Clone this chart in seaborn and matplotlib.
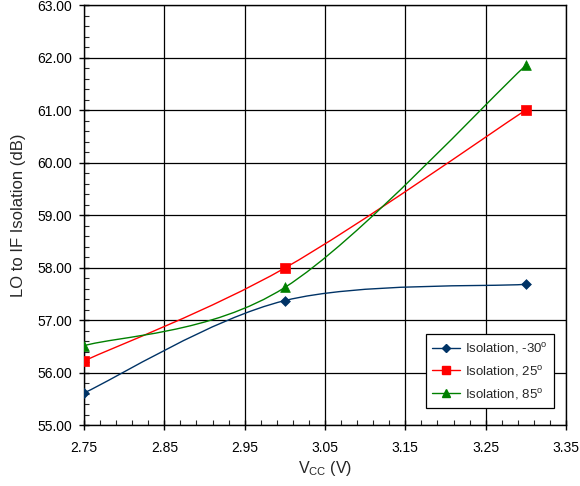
import numpy as np
import pandas as pd
import matplotlib
matplotlib.use("Agg")
import matplotlib.pyplot as plt
import seaborn as sns
from matplotlib.path import Path
from matplotlib.patches import PathPatch
from matplotlib.lines import Line2D
from matplotlib.ticker import MultipleLocator, FormatStrFormatter

vcc = [2.75, 3.00, 3.30]
iso_m30 = [55.61, 57.37, 57.68]
iso_25 = [56.22, 57.99, 61.00]
iso_85 = [56.51, 57.62, 61.85]

x_ticks = [2.75, 2.85, 2.95, 3.05, 3.15, 3.25, 3.35]
labels = [r"Isolation, -30$^{\mathrm{o}}$", r"Isolation, 25$^{\mathrm{o}}$", r"Isolation, 85$^{\mathrm{o}}$"]
colors = ["#003366", "#FF0000", "#008000"]
markers = ["D", "s", "^"]
msizes = [5, 7, 7]

sns.set_style("white")
plt.rcParams['font.family'] = ['Liberation Sans', 'DejaVu Sans']
plt.rcParams['mathtext.fontset'] = 'custom'
plt.rcParams['mathtext.rm'] = 'Liberation Sans'
plt.rcParams['mathtext.it'] = 'Liberation Sans'


def smooth_path(xs, ys):
    # Excel-style smoothed line: Catmull-Rom converted to cubic Bezier
    pts = np.column_stack([xs, ys]).astype(float)
    n = len(pts)
    verts = [pts[0]]
    codes = [Path.MOVETO]
    for i in range(n - 1):
        p_prev = pts[max(i - 1, 0)]
        p0 = pts[i]
        p1 = pts[i + 1]
        p_next = pts[min(i + 2, n - 1)]
        c1 = p0 + (p1 - p_prev) / 6.0
        c2 = p1 - (p_next - p0) / 6.0
        verts += [c1, c2, p1]
        codes += [Path.CURVE4] * 3
    return Path(verts, codes)


df = pd.DataFrame({"vcc": vcc * 3,
                   "iso": iso_m30 + iso_25 + iso_85,
                   "series": [labels[0]] * 3 + [labels[1]] * 3 + [labels[2]] * 3})

fig = plt.figure(figsize=(5.8, 4.86), dpi=100)
ax = fig.add_axes([0.1448, 0.1255, 0.8310, 0.8642])

for lab, col, mk, ms in zip(labels, colors, markers, msizes):
    sub = df[df["series"] == lab]
    ax.add_patch(PathPatch(smooth_path(sub["vcc"], sub["iso"]), fill=False,
                           edgecolor=col, lw=1.0, zorder=3))
    sns.scatterplot(data=sub, x="vcc", y="iso", color=col, marker=mk, s=ms ** 2,
                    edgecolor=col, linewidth=0.5, ax=ax, zorder=4, legend=False)

ax.set_xlim(2.75, 3.35)
ax.set_ylim(55, 63)
ax.set_xticks(x_ticks)
ax.xaxis.set_minor_locator(MultipleLocator(0.02, offset=0.01))
ax.yaxis.set_major_locator(MultipleLocator(1))
ax.yaxis.set_minor_locator(MultipleLocator(0.2))
ax.xaxis.set_major_formatter(FormatStrFormatter("%.2f"))
ax.yaxis.set_major_formatter(FormatStrFormatter("%.2f"))
ax.grid(True, which="major", color="black", lw=0.9)
ax.set_axisbelow(True)
ax.tick_params(which="major", direction="inout", length=7, width=1, labelsize=10, colors="black",
               bottom=True, left=True)
ax.tick_params(axis="x", which="major", pad=8)
ax.tick_params(axis="y", which="major", pad=5)
ax.tick_params(which="minor", direction="in", length=3.5, width=0.8, bottom=True, left=True)
for s in ax.spines.values():
    s.set_color("black")
    s.set_linewidth(1.0)

ax.set_xlabel(r"V$_{\mathrm{CC}}$ (V)", fontsize=11.5, labelpad=3)
ax.set_ylabel("LO to IF Isolation (dB)", fontsize=12, labelpad=8)

handles = [Line2D([0], [0], color=c, marker=m, markersize=ms * 0.85, lw=1.0, markeredgecolor=c)
           for c, m, ms in zip(colors, markers, msizes)]
leg = ax.legend(handles, labels, loc="lower right", bbox_to_anchor=(0.975, 0.04), borderaxespad=0,
                fontsize=9.5, frameon=True, fancybox=False, edgecolor="black", framealpha=1,
                handlelength=2.1, handletextpad=0.35, labelspacing=0.6, borderpad=0.5)
leg.get_frame().set_linewidth(0.9)

fig.savefig("out.png", dpi=100)
